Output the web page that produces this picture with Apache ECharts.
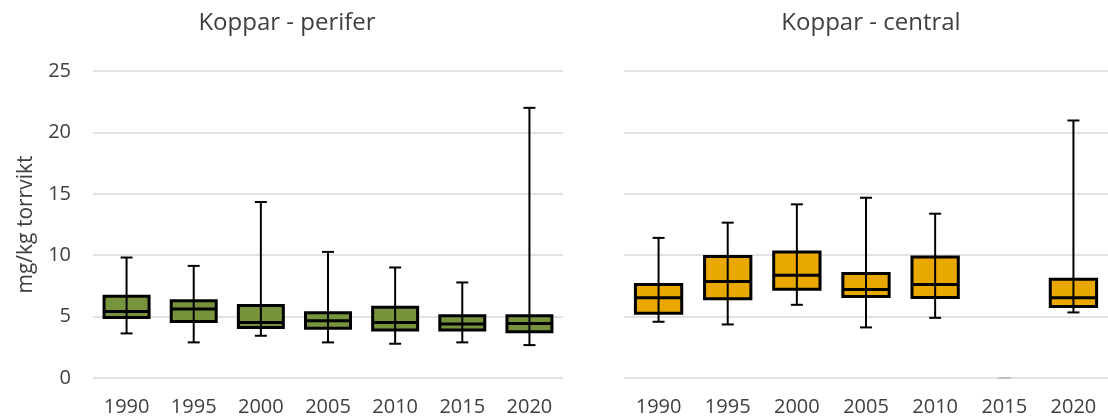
<!DOCTYPE html>
<html>
<head>
<meta charset="utf-8">
<script src="https://cdn.jsdelivr.net/npm/echarts@6/dist/echarts.min.js"></script>
<style>
  html, body { margin: 0; padding: 0; background: #fff; }
  #chart { width: 1108px; height: 418px; }
</style>
</head>
<body>
<div id="chart"></div>
<script>
// kategorier (år)
var years = ['1990', '1995', '2000', '2005', '2010', '2015', '2020']
var yTicks = [0, 5, 10, 15, 20, 25]

// [min, Q1, median, Q3, max] per år
var perifer = [
  [3.63, 4.93, 5.42, 6.66, 9.81],
  [2.90, 4.61, 5.61, 6.29, 9.13],
  [3.44, 4.12, 4.52, 5.91, 14.33],
  [2.90, 4.06, 4.66, 5.31, 10.27],
  [2.79, 3.90, 4.52, 5.77, 9.00],
  [2.90, 3.90, 4.39, 5.07, 7.78],
  [2.68, 3.77, 4.44, 5.07, 22.0]
]
var central = [
  [4.58, 5.28, 6.53, 7.61, 11.41],
  [4.36, 6.45, 7.86, 9.89, 12.65],
  [5.96, 7.23, 8.37, 10.27, 14.14],
  [4.12, 6.64, 7.21, 8.51, 14.68],
  [4.90, 6.56, 7.61, 9.86, 13.38],
  [0, 0, 0, 0, 0],
  [5.34, 5.82, 6.53, 8.05, 20.97]
]

var font = '"Open Sans", "Noto Sans", sans-serif'
var textColor = '#404040'

function toRows (arr) {
  return arr.map(function (d, i) { return [i].concat(d) })
}

function boxItem (fill) {
  return function (params, api) {
    var idx = api.value(0)
    var band = api.size([1, 0])[0]
    var half = band * 0.335
    var cap = 6
    var pMin = api.coord([idx, api.value(1)])
    var pQ1 = api.coord([idx, api.value(2)])
    var pMed = api.coord([idx, api.value(3)])
    var pQ3 = api.coord([idx, api.value(4)])
    var pMax = api.coord([idx, api.value(5)])
    var x = pMin[0]
    // tom kategori: bara ett litet grått streck vid noll
    if (api.value(1) === api.value(5)) {
      return {
        type: 'line',
        shape: { x1: x - cap, y1: pMin[1], x2: x + cap, y2: pMin[1] },
        style: { stroke: '#a6a6a6', lineWidth: 1.2 }
      }
    }
    var line = { stroke: '#000', lineWidth: 2 }
    return {
      type: 'group',
      children: [
        { type: 'line', shape: { x1: x, y1: pMax[1], x2: x, y2: pMin[1] }, style: line },
        { type: 'line', shape: { x1: x - cap, y1: pMax[1], x2: x + cap, y2: pMax[1] }, style: line },
        { type: 'line', shape: { x1: x - cap, y1: pMin[1], x2: x + cap, y2: pMin[1] }, style: line },
        {
          type: 'rect',
          shape: { x: x - half, y: pQ3[1], width: half * 2, height: pQ1[1] - pQ3[1] },
          style: { fill: fill, stroke: '#000', lineWidth: 3 }
        },
        { type: 'line', shape: { x1: x - half, y1: pMed[1], x2: x + half, y2: pMed[1] }, style: { stroke: '#000', lineWidth: 3 } },
        { type: 'line', shape: { x1: x, y1: pQ3[1], x2: x, y2: pQ1[1] }, style: line }
      ]
    }
  }
}

function yAxis (idx, showLabels) {
  return {
    type: 'value',
    gridIndex: idx,
    min: yTicks[0],
    max: yTicks[yTicks.length - 1],
    interval: 5,
    axisLine: { show: false },
    axisTick: { show: false },
    axisLabel: { show: showLabels, color: textColor, fontSize: 20, fontFamily: font, margin: 22 },
    splitLine: { lineStyle: { color: '#d9d9d9', width: 1.6 } },
    name: showLabels ? 'mg/kg torrvikt' : '',
    nameLocation: 'middle',
    nameRotate: 90,
    nameGap: 56,
    nameTextStyle: { color: textColor, fontSize: 21, fontFamily: font }
  }
}

function xAxis (idx) {
  return {
    type: 'category',
    gridIndex: idx,
    data: years,
    axisLine: { show: false },
    axisTick: { show: false },
    axisLabel: { color: textColor, fontSize: 20, fontFamily: font, margin: 19 }
  }
}

var chart = echarts.init(document.getElementById('chart'))
chart.setOption({
  animation: false,
  title: [
    { text: 'Koppar - perifer', left: 282, top: 6, textAlign: 'center',
      textStyle: { color: textColor, fontSize: 24, fontWeight: 'normal', fontFamily: font } },
    { text: 'Koppar - central', left: 866, top: 6, textAlign: 'center',
      textStyle: { color: textColor, fontSize: 24, fontWeight: 'normal', fontFamily: font } }
  ],
  grid: [
    { left: 93, top: 71, width: 470, height: 307 },
    { left: 624, top: 71, width: 484, height: 307 }
  ],
  xAxis: [xAxis(0), xAxis(1)],
  yAxis: [yAxis(0, true), yAxis(1, false)],
  series: [
    {
      type: 'custom',
      xAxisIndex: 0,
      yAxisIndex: 0,
      renderItem: boxItem('#77933c'),
      encode: { x: 0, y: [1, 2, 3, 4, 5] },
      data: toRows(perifer)
    },
    {
      type: 'custom',
      xAxisIndex: 1,
      yAxisIndex: 1,
      renderItem: boxItem('#e9a800'),
      encode: { x: 0, y: [1, 2, 3, 4, 5] },
      data: toRows(central)
    }
  ]
})
</script>
</body>
</html>
